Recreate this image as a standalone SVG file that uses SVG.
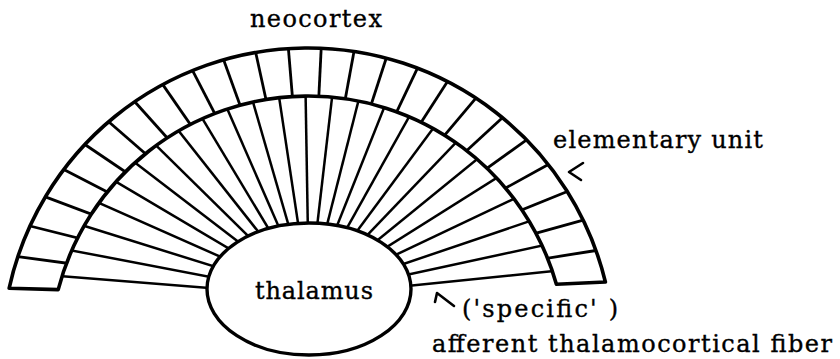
<svg xmlns="http://www.w3.org/2000/svg" width="840" height="359" viewBox="0 0 840 359">
<style>
.txt{font-family:"DejaVu Serif","Liberation Serif",serif;font-size:24px;fill:#000;stroke:#000;stroke-width:0.35}
.edge{fill:none;stroke:#000;stroke-width:3.6;stroke-linejoin:round}
.div{stroke:#000;stroke-width:2.8}
.fib{stroke:#000;stroke-width:2.5}
.mark{fill:none;stroke:#000;stroke-width:2.6;stroke-linecap:round;stroke-linejoin:round}
</style>
<defs>
<clipPath id="outsideInner"><path clip-rule="evenodd" d="M0 0H840V359H0Z M50 354A258 258 0 1 0 566 354A258 258 0 1 0 50 354Z"/></clipPath>
<clipPath id="insideInner"><circle cx="308" cy="354" r="258"/></clipPath>
</defs>
<rect width="840" height="359" fill="#fff"/>
<g id="connectors" clip-path="url(#insideInner)">
<line class="fib" x1="13.1" y1="272.3" x2="309" y2="296"/>
<line class="fib" x1="23.6" y1="241.2" x2="309" y2="296"/>
<line class="fib" x1="37.3" y1="211.3" x2="309" y2="296"/>
<line class="fib" x1="54.2" y1="183.1" x2="309" y2="296"/>
<line class="fib" x1="74.0" y1="156.8" x2="309" y2="296"/>
<line class="fib" x1="96.4" y1="132.9" x2="309" y2="296"/>
<line class="fib" x1="121.5" y1="111.4" x2="309" y2="296"/>
<line class="fib" x1="148.6" y1="92.8" x2="309" y2="296"/>
<line class="fib" x1="177.5" y1="77.2" x2="309" y2="296"/>
<line class="fib" x1="208.0" y1="64.8" x2="309" y2="296"/>
<line class="fib" x1="239.6" y1="55.7" x2="309" y2="296"/>
<line class="fib" x1="272.0" y1="50.1" x2="309" y2="296"/>
<line class="fib" x1="304.8" y1="48.0" x2="309" y2="296"/>
<line class="fib" x1="337.6" y1="49.4" x2="309" y2="296"/>
<line class="fib" x1="370.2" y1="54.4" x2="309" y2="296"/>
<line class="fib" x1="402.0" y1="62.8" x2="309" y2="296"/>
<line class="fib" x1="432.7" y1="74.5" x2="309" y2="296"/>
<line class="fib" x1="461.9" y1="89.5" x2="309" y2="296"/>
<line class="fib" x1="489.4" y1="107.6" x2="309" y2="296"/>
<line class="fib" x1="514.8" y1="128.5" x2="309" y2="296"/>
<line class="fib" x1="537.8" y1="152.0" x2="309" y2="296"/>
<line class="fib" x1="558.2" y1="177.8" x2="309" y2="296"/>
<line class="fib" x1="575.6" y1="205.6" x2="309" y2="296"/>
<line class="fib" x1="590.0" y1="235.2" x2="309" y2="296"/>
<line class="fib" x1="601.1" y1="266.2" x2="309" y2="296"/>
</g>
<g id="neocortex-band">
<g clip-path="url(#outsideInner)">
<line class="div" x1="17.9" y1="256.6" x2="309" y2="296"/>
<line class="div" x1="30.0" y1="226.0" x2="309" y2="296"/>
<line class="div" x1="45.4" y1="196.9" x2="309" y2="296"/>
<line class="div" x1="63.8" y1="169.6" x2="309" y2="296"/>
<line class="div" x1="84.9" y1="144.5" x2="309" y2="296"/>
<line class="div" x1="108.7" y1="121.8" x2="309" y2="296"/>
<line class="div" x1="134.8" y1="101.7" x2="309" y2="296"/>
<line class="div" x1="162.8" y1="84.6" x2="309" y2="296"/>
<line class="div" x1="192.6" y1="70.6" x2="309" y2="296"/>
<line class="div" x1="223.7" y1="59.9" x2="309" y2="296"/>
<line class="div" x1="255.7" y1="52.5" x2="309" y2="296"/>
<line class="div" x1="288.4" y1="48.6" x2="309" y2="296"/>
<line class="div" x1="321.2" y1="48.3" x2="309" y2="296"/>
<line class="div" x1="354.0" y1="51.5" x2="309" y2="296"/>
<line class="div" x1="386.2" y1="58.2" x2="309" y2="296"/>
<line class="div" x1="417.5" y1="68.2" x2="309" y2="296"/>
<line class="div" x1="447.5" y1="81.6" x2="309" y2="296"/>
<line class="div" x1="475.9" y1="98.2" x2="309" y2="296"/>
<line class="div" x1="502.4" y1="117.7" x2="309" y2="296"/>
<line class="div" x1="526.6" y1="139.9" x2="309" y2="296"/>
<line class="div" x1="548.3" y1="164.6" x2="309" y2="296"/>
<line class="div" x1="567.3" y1="191.5" x2="309" y2="296"/>
<line class="div" x1="583.2" y1="220.2" x2="309" y2="296"/>
<line class="div" x1="596.0" y1="250.5" x2="309" y2="296"/>
</g>
<path class="edge" d="M9.1 288.3A306 306 0 0 1 605.4 282L556.4 284.3A258 258 0 0 0 58.2 289.6Z"/>
</g>
<g id="thalamus">
<ellipse cx="309" cy="289" rx="102" ry="66" fill="#fff" stroke="#000" stroke-width="3.4"/>
<text class="txt" x="255" y="299" textLength="118" lengthAdjust="spacing">thalamus</text>
</g>
<g id="label-neocortex">
<text class="txt" x="250" y="27" textLength="132" lengthAdjust="spacing">neocortex</text>
</g>
<g id="label-elementary-unit">
<text class="txt" x="553" y="148" textLength="210" lengthAdjust="spacing">elementary unit</text>
<polyline class="mark" points="583,163 569,172 581,180"/>
</g>
<g id="label-afferent">
<polyline class="mark" points="435,302 437,293 454,306"/>
<text class="txt" x="462" y="317" textLength="156" lengthAdjust="spacing">('specific' )</text>
<text class="txt" x="432" y="352" font-size="23" textLength="400" lengthAdjust="spacing">afferent thalamocortical fiber</text>
</g>
</svg>
